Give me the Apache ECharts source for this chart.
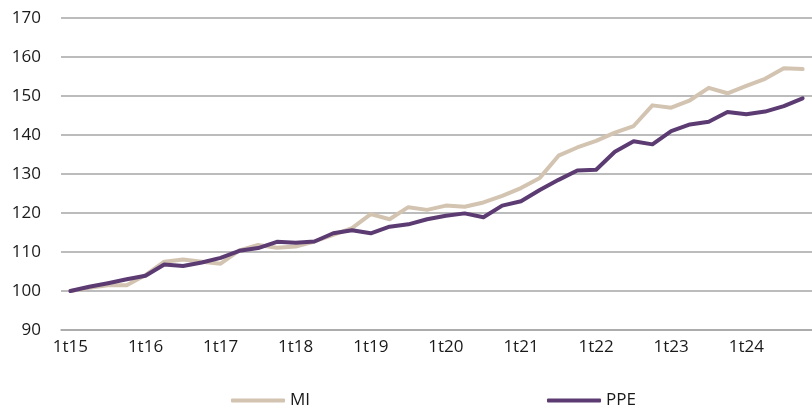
<!DOCTYPE html>
<html>
<head>
<meta charset="utf-8">
<script src="https://cdn.jsdelivr.net/npm/echarts@6/dist/echarts.min.js"></script>
<style>
  html, body { margin: 0; padding: 0; background: #fff; }
  #chart { width: 812px; height: 409px; }
</style>
</head>
<body>
<div id="chart"></div>
<script>
// quarters 1t15 .. 4t24
const quarters = [
  '1t15', '2t15', '3t15', '4t15', '1t16', '2t16', '3t16', '4t16',
  '1t17', '2t17', '3t17', '4t17', '1t18', '2t18', '3t18', '4t18',
  '1t19', '2t19', '3t19', '4t19', '1t20', '2t20', '3t20', '4t20',
  '1t21', '2t21', '3t21', '4t21', '1t22', '2t22', '3t22', '4t22',
  '1t23', '2t23', '3t23', '4t23', '1t24', '2t24', '3t24', '4t24'
];

const miValues = [
  100.0, 100.8, 101.5, 101.5, 104.1, 107.5, 108.1, 107.5,
  107.0, 110.4, 111.8, 111.1, 111.4, 112.7, 114.4, 116.1,
  119.7, 118.4, 121.5, 120.8, 121.9, 121.6, 122.7, 124.4,
  126.4, 129.0, 134.7, 136.8, 138.5, 140.6, 142.3, 147.6,
  147.0, 148.9, 152.1, 150.7, 152.6, 154.4, 157.1, 156.9
];

const ppeValues = [
  100.0, 101.1, 102.0, 103.0, 103.9, 106.8, 106.4, 107.3,
  108.5, 110.3, 111.0, 112.6, 112.4, 112.7, 114.8, 115.6,
  114.8, 116.5, 117.1, 118.4, 119.3, 119.9, 118.9, 121.9,
  123.0, 125.9, 128.5, 130.9, 131.1, 135.7, 138.4, 137.6,
  141.0, 142.7, 143.4, 145.9, 145.3, 146.0, 147.4, 149.4
];

const yTicks = { min: 90, max: 170, step: 10 };

const miColor = '#D3C4B1';
const ppeColor = '#5C3B72';
const gridColor = '#A6A6A6';
const textColor = '#1a1a1a';
const font = '"Open Sans", "Noto Sans", sans-serif';

const chart = echarts.init(document.getElementById('chart'));

const legendBase = {
  top: 392,
  padding: 0,
  icon: 'roundRect',
  itemWidth: 54,
  itemHeight: 4,
  itemGap: 5,
  textStyle: { color: textColor, fontSize: 17, fontFamily: font }
};

chart.setOption({
  animation: false,
  grid: { left: 61, right: 0, top: 18, bottom: 79 },
  legend: [
    Object.assign({ left: 231, data: ['MI'] }, legendBase),
    Object.assign({ left: 547, data: ['PPE'] }, legendBase)
  ],
  xAxis: {
    type: 'category',
    data: quarters,
    boundaryGap: true,
    axisLine: { lineStyle: { color: gridColor, width: 1.5 } },
    axisTick: { interval: 3, length: 5, lineStyle: { color: gridColor, width: 1.5 } },
    axisLabel: {
      interval: 3,
      margin: 9,
      color: textColor,
      fontSize: 17,
      fontFamily: font
    }
  },
  yAxis: {
    type: 'value',
    min: yTicks.min,
    max: yTicks.max,
    interval: yTicks.step,
    axisLine: { show: false },
    axisTick: { show: false },
    axisLabel: { margin: 20, color: textColor, fontSize: 17, fontFamily: font },
    splitLine: { lineStyle: { color: gridColor, width: 1.5 } }
  },
  series: [
    {
      name: 'MI',
      type: 'line',
      data: miValues,
      symbol: 'none',
      color: miColor,
      lineStyle: { width: 4, color: miColor, cap: 'round', join: 'round' }
    },
    {
      name: 'PPE',
      type: 'line',
      data: ppeValues,
      symbol: 'none',
      color: ppeColor,
      lineStyle: { width: 4, color: ppeColor, cap: 'round', join: 'round' }
    }
  ]
});

window.addEventListener('resize', () => chart.resize());
</script>
</body>
</html>
